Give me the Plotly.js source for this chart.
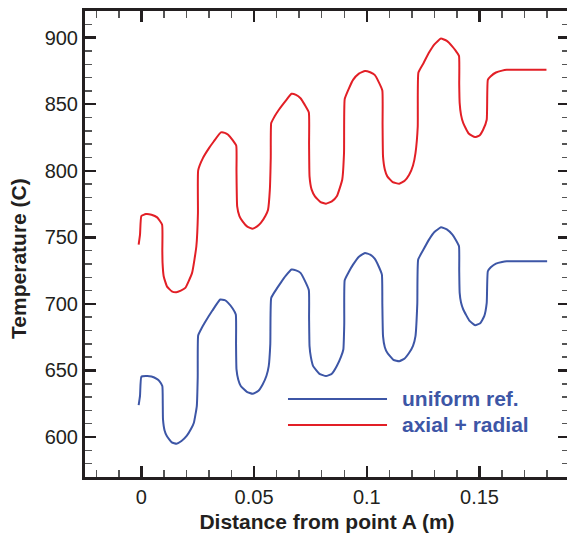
<!DOCTYPE html>
<html>
<head>
<meta charset="utf-8">
<script src="https://cdn.plot.ly/plotly-3.0.1.min.js"></script>
<style>html,body{margin:0;padding:0;background:#fff;overflow:hidden;}#wrap{width:567px;height:536px;overflow:hidden;}#chart{width:569px;height:536px;}</style>
</head>
<body>
<div id="wrap"><div id="chart"></div></div>
<script>
// Distance from point A (m)
const xAxial = [-0.0012,-0.0006,0.0000,0.0020,0.0045,0.0070,0.0092,0.0093,0.0094,0.0099,0.0114,0.0135,0.0155,0.0175,0.0195,0.0225,0.0244,0.0251,0.0252,0.0273,0.0300,0.0321,0.0353,0.0370,0.0385,0.0405,0.0421,0.0422,0.0425,0.0435,0.0449,0.0470,0.0493,0.0512,0.0530,0.0550,0.0562,0.0570,0.0574,0.0576,0.0590,0.0610,0.0640,0.0666,0.0686,0.0706,0.0725,0.0743,0.0744,0.0746,0.0755,0.0770,0.0795,0.0819,0.0845,0.0867,0.0891,0.0899,0.0902,0.0920,0.0939,0.0965,0.0992,0.1015,0.1035,0.1052,0.1069,0.1070,0.1072,0.1080,0.1091,0.1115,0.1144,0.1168,0.1188,0.1205,0.1216,0.1226,0.1229,0.1252,0.1276,0.1300,0.1329,0.1355,0.1380,0.1395,0.1409,0.1410,0.1412,0.1418,0.1428,0.1452,0.1480,0.1500,0.1516,0.1532,0.1537,0.1550,0.1573,0.1600,0.1621,0.1700,0.1797];
// Temperature (C), axial + radial
const tAxial = [744.5,752,766,767.5,767,765,759.5,740,730.8,720.8,713,709.5,708.8,710,712,723.3,743.3,768.3,800.3,809.5,817,822,828.8,828.5,827,823,818.8,800,773.3,766,762,758,756.5,758,760.8,766,770.8,785.8,810,835.8,840.5,845.8,852.5,857.8,857,854.5,849.5,843.8,820,795.8,786,780.8,776.5,775.3,777,780.8,793.3,813.3,853.8,861.5,868.3,873,875,874,872,867,860.3,835,810.8,801,795.8,791.5,790.3,792.5,797,804,813.3,833.3,873.8,881,888.8,895,899.3,897.5,893.3,890,886.3,865,850.8,842,835.8,828,825.3,826.5,830.8,838.3,868.3,871,873.8,875.2,875.8,875.8,875.8];

const xUniform = [-0.0012,-0.0006,0.0000,0.0020,0.0045,0.0070,0.0080,0.0093,0.0095,0.0096,0.0103,0.0113,0.0135,0.0156,0.0178,0.0201,0.0220,0.0233,0.0246,0.0250,0.0252,0.0265,0.0281,0.0315,0.0350,0.0370,0.0385,0.0405,0.0419,0.0420,0.0422,0.0430,0.0441,0.0468,0.0494,0.0518,0.0538,0.0555,0.0565,0.0572,0.0576,0.0595,0.0618,0.0640,0.0666,0.0686,0.0706,0.0725,0.0743,0.0744,0.0746,0.0752,0.0762,0.0790,0.0819,0.0845,0.0867,0.0885,0.0896,0.0900,0.0902,0.0920,0.0939,0.0965,0.0992,0.1015,0.1035,0.1052,0.1067,0.1069,0.1072,0.1080,0.1091,0.1118,0.1144,0.1168,0.1188,0.1205,0.1216,0.1224,0.1228,0.1252,0.1276,0.1300,0.1329,0.1355,0.1380,0.1395,0.1409,0.1410,0.1412,0.1418,0.1428,0.1455,0.1481,0.1503,0.1521,0.1532,0.1537,0.1550,0.1573,0.1600,0.1621,0.1700,0.1800];
// Temperature (C), uniform ref.
const tUniform = [624,631,645.3,645.8,645.5,643.5,642,638.3,625,613.3,605,600.8,596,595,597,600.8,606,610.8,623.3,645,676.3,681,685.8,695,703.3,702.8,700.8,696.5,692,670,650.8,643,638.3,634,632.5,634.5,639.5,646,653.3,670,704.5,710,715.8,721,725.8,725.2,723.3,717.5,710.3,690,668.3,660,653.3,647.5,645.8,647.5,653.3,660,665.8,685,717.8,724,729.5,735.5,738.3,737,734,728.5,722,700,675.8,667.5,663.3,658,657,659,663.3,668.5,675.8,700,733.3,741,748.3,754,757.5,756,752,748,743.3,725,708.3,701,695.8,687.5,684,685.5,690.8,700.8,724.5,727.5,730.3,731.5,732,732,732];

const seriesNames = ["uniform ref.", "axial + radial"];
const xTickVals = [0, 0.05, 0.1, 0.15];
const xTickText = ["0", "0.05", "0.1", "0.15"];
const yTickVals = [600, 650, 700, 750, 800, 850, 900];
const yTickText = ["600", "650", "700", "750", "800", "850", "900"];

const BLUE = "#3d56a6";
const RED = "#e21f26";
const INK = "#231f20";
const FONT = "Liberation Sans, Arial, sans-serif";

const traces = [
  {x: xUniform, y: tUniform, name: seriesNames[0], type: "scatter", mode: "lines",
   line: {color: BLUE, width: 2, shape: "spline", smoothing: 0.4}, showlegend: false, hoverinfo: "skip"},
  {x: xAxial, y: tAxial, name: seriesNames[1], type: "scatter", mode: "lines",
   line: {color: RED, width: 2, shape: "spline", smoothing: 0.4}, showlegend: false, hoverinfo: "skip"}
];

const axisCommon = {
  showgrid: false, zeroline: false, showline: true, linewidth: 3, linecolor: INK,
  mirror: "ticks", ticks: "inside", ticklen: 11, tickwidth: 2.5, tickcolor: INK,
  tickfont: {family: FONT, size: 20, color: INK},
  automargin: false
};

const layout = {
  width: 569, height: 536,
  margin: {l: 85, r: 0, t: 11, b: 59},
  paper_bgcolor: "#ffffff", plot_bgcolor: "#ffffff",
  showlegend: false,
  xaxis: Object.assign({}, axisCommon, {
    range: [-0.025, 0.1897],
    tickmode: "array", tickvals: xTickVals, ticktext: xTickText,
    minor: {dtick: 0.01, tick0: 0, ticks: "inside", ticklen: 7, tickwidth: 1.5, tickcolor: "#555"},
    title: {text: "Distance from point A (m)", font: {family: FONT, size: 21, color: INK, weight: "bold"}, standoff: 8}
  }),
  yaxis: Object.assign({}, axisCommon, {
    range: [570, 920],
    tickmode: "array", tickvals: yTickVals, ticktext: yTickText,
    minor: {dtick: 10, tick0: 0, ticks: "inside", ticklen: 7, tickwidth: 1.5, tickcolor: "#555"},
    title: {text: "Temperature (C)&nbsp;&nbsp;&nbsp;&nbsp;&nbsp;", font: {family: FONT, size: 21, color: INK, weight: "bold"}, standoff: 13}
  }),
  shapes: [
    {type: "line", xref: "paper", yref: "paper", x0: 0.4194, x1: 0.6240, y0: 0.1674, y1: 0.1674, line: {color: BLUE, width: 2}},
    {type: "line", xref: "paper", yref: "paper", x0: 0.4194, x1: 0.6240, y0: 0.1116, y1: 0.1116, line: {color: RED, width: 2}}
  ],
  annotations: [
    {xref: "paper", yref: "paper", x: 0.6515, y: 0.1674, xanchor: "left", yanchor: "middle", showarrow: false,
     text: seriesNames[0], font: {family: FONT, size: 21, color: BLUE, weight: "bold"}},
    {xref: "paper", yref: "paper", x: 0.6515, y: 0.1116, xanchor: "left", yanchor: "middle", showarrow: false,
     text: seriesNames[1], font: {family: FONT, size: 21, color: BLUE, weight: "bold"}}
  ]
};

Plotly.newPlot("chart", traces, layout, {staticPlot: true, displayModeBar: false});
</script>
</body>
</html>
